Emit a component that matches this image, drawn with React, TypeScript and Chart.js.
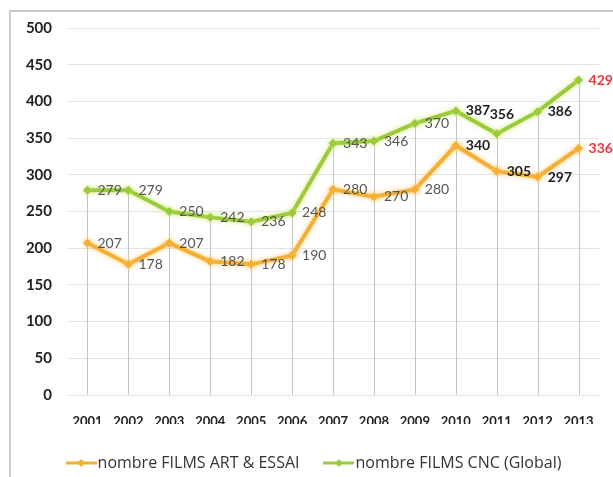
import { useEffect, useRef } from 'react';
import { Chart, registerables } from 'chart.js';

Chart.register(...registerables);

const years = ['2001', '2002', '2003', '2004', '2005', '2006', '2007', '2008', '2009', '2010', '2011', '2012', '2013'];
const artEssai = [207, 178, 207, 182, 178, 190, 280, 270, 280, 340, 305, 297, 336];
const cncGlobal = [279, 279, 250, 242, 236, 248, 343, 346, 370, 387, 356, 386, 429];
const yTicks = [0, 50, 100, 150, 200, 250, 300, 350, 400, 450, 500];
const seriesNames = ['nombre FILMS ART & ESSAI', 'nombre FILMS CNC (Global)'];

// label styles: n = normal grey, b = bold dark, r = red
const artLabelStyle = ['n', 'n', 'n', 'n', 'n', 'n', 'n', 'n', 'n', 'b', 'b', 'b', 'r'];
const cncLabelStyle = ['n', 'n', 'n', 'n', 'n', 'n', 'n', 'n', 'n', 'b', 'b', 'b', 'r'];
const cncLabelShift: Record<number, [number, number]> = { 10: [-17, -19] };

const ORANGE = '#F6AF35';
const GREEN = '#9BCB3B';

function legendIcon(color: string) {
  const c = document.createElement('canvas');
  c.width = 31;
  c.height = 10;
  const ctx = c.getContext('2d')!;
  ctx.strokeStyle = color;
  ctx.lineWidth = 3;
  ctx.beginPath();
  ctx.moveTo(0, 5);
  ctx.lineTo(31, 5);
  ctx.stroke();
  ctx.fillStyle = color;
  ctx.beginPath();
  ctx.moveTo(15.5, 1);
  ctx.lineTo(19.5, 5);
  ctx.lineTo(15.5, 9);
  ctx.lineTo(11.5, 5);
  ctx.closePath();
  ctx.fill();
  return c;
}

export default function App() {
  const ref = useRef<HTMLCanvasElement>(null);

  useEffect(() => {
    if (!ref.current) return;
    const icons = [legendIcon(ORANGE), legendIcon(GREEN)];

    const dropLines = {
      id: 'dropLines',
      beforeDatasetsDraw(chart: any) {
        const meta = chart.getDatasetMeta(1);
        const { ctx, chartArea } = chart;
        ctx.save();
        ctx.strokeStyle = '#c4c4c4';
        ctx.lineWidth = 1;
        meta.data.forEach((el: any) => {
          const x = Math.round(el.x) + 0.5;
          ctx.beginPath();
          ctx.moveTo(x, el.y);
          ctx.lineTo(x, chartArea.bottom);
          ctx.stroke();
        });
        ctx.restore();
      },
    };

    const shiftLegend = {
      id: 'shiftLegend',
      afterLayout(chart: any) {
        if (chart.legend) {
          chart.legend.left += 15;
          chart.legend.right += 15;
        }
      },
    };

    const glow = {
      id: 'glow',
      beforeDatasetDraw(chart: any, args: any) {
        const ctx = chart.ctx;
        ctx.save();
        ctx.shadowColor = args.index === 0 ? 'rgba(250,200,110,0.9)' : 'rgba(210,235,120,0.9)';
        ctx.shadowBlur = 5;
      },
      afterDatasetDraw(chart: any) {
        chart.ctx.restore();
      },
    };

    const labels = {
      id: 'valueLabels',
      afterDatasetsDraw(chart: any) {
        const ctx = chart.ctx;
        ctx.save();
        ctx.textBaseline = 'middle';
        ctx.textAlign = 'left';
        [0, 1].forEach((di) => {
          const meta = chart.getDatasetMeta(di);
          const values = di === 0 ? artEssai : cncGlobal;
          const styles = di === 0 ? artLabelStyle : cncLabelStyle;
          meta.data.forEach((el: any, i: number) => {
            const st = styles[i];
            const shift = di === 1 && cncLabelShift[i] ? cncLabelShift[i] : [0, 0];
            ctx.font = (st === 'n' ? '' : 'bold ') + '14px Lato';
            ctx.fillStyle = st === 'r' ? '#e8393f' : st === 'b' ? '#222' : '#555';
            ctx.fillText(String(values[i]), el.x + 10 + shift[0], el.y + shift[1]);
          });
        });
        ctx.restore();
      },
    };

    const chart = new Chart(ref.current, {
      type: 'line',
      data: {
        labels: years,
        datasets: [
          {
            label: seriesNames[0],
            data: artEssai,
            borderColor: ORANGE,
            backgroundColor: ORANGE,
            borderWidth: 4,
            pointStyle: 'rectRot',
            pointRadius: 4.5,
            pointBackgroundColor: ORANGE,
            pointBorderWidth: 0,
            tension: 0,
          },
          {
            label: seriesNames[1],
            data: cncGlobal,
            borderColor: GREEN,
            backgroundColor: GREEN,
            borderWidth: 4,
            pointStyle: 'rectRot',
            pointRadius: 4.5,
            pointBackgroundColor: GREEN,
            pointBorderWidth: 0,
            tension: 0,
          },
        ],
      },
      options: {
        responsive: false,
        animation: false,
        layout: { padding: { left: 0, right: 9, top: 28, bottom: 0 } },
        plugins: {
          tooltip: { enabled: false },
          legend: {
            position: 'bottom',
            maxHeight: 53,
            labels: {
              usePointStyle: true,
              pointStyleWidth: 17,
              padding: 31,
              color: '#333',
              font: { family: 'Open Sans', size: 16 },
              generateLabels: (ch: any) =>
                ch.data.datasets.map((ds: any, i: number) => ({
                  text: ds.label,
                  fillStyle: ds.borderColor,
                  strokeStyle: 'transparent',
                  lineWidth: 0,
                  pointStyle: icons[i],
                  hidden: false,
                  datasetIndex: i,
                  fontColor: '#333',
                })),
            },
          },
        },
        scales: {
          x: {
            offset: true,
            grid: { display: false, drawTicks: false },
            border: { display: false },
            ticks: {
              padding: 19,
              color: '#222',
              font: { family: 'Lato', size: 13, weight: 'bold' },
              maxRotation: 0,
              autoSkip: false,
            },
            afterFit: (s: any) => {
              s.height = 29;
            },
          },
          y: {
            min: 0,
            max: 500,
            grid: { color: '#e4e4e4', drawTicks: false },
            border: { display: false },
            afterBuildTicks: (s: any) => {
              s.ticks = yTicks.map((v) => ({ value: v }));
            },
            ticks: {
              padding: 15,
              color: '#222',
              font: { family: 'Lato', size: 15, weight: 'bold' },
            },
            afterFit: (s: any) => {
              s.width = 67;
            },
          },
        },
      },
      plugins: [dropLines, glow, labels, shiftLegend],
    });
    return () => chart.destroy();
  }, []);

  return (
    <div style={{ position: 'absolute', left: 0, top: 0, width: 613, height: 477, overflow: 'hidden', background: '#fff' }}>
      <div
        style={{
          position: 'absolute',
          left: 9,
          top: 10,
          right: -4,
          bottom: -4,
          borderTop: '2px solid #cccccc',
          borderLeft: '2px solid #cccccc',
        }}
      />
      <canvas ref={ref} width={613} height={477} style={{ position: 'absolute', left: 0, top: 0 }} />
    </div>
  );
}
